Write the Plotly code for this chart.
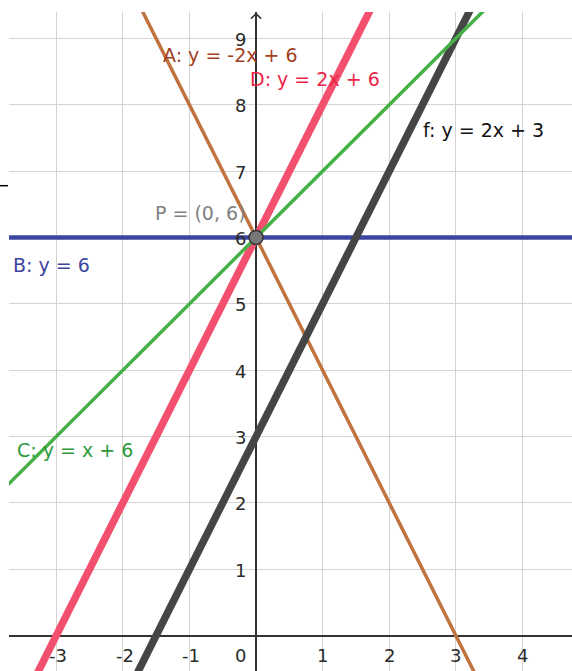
import plotly.graph_objects as go

# lines y = m*x + b
names = ["B", "A", "f", "D", "C"]
label_texts = ["B: y = 6", "A: y = -2x + 6", "f: y = 2x + 3", "D: y = 2x + 6", "C: y = x + 6"]
slopes = [0, -2, 2, 2, 1]
intercepts = [6, 6, 3, 6, 6]
line_colors = ["#3c46a0", "#c0733f", "#454545", "#f2506e", "#45b045"]
label_colors = ["#3c46a0", "#a3401f", "#111111", "#ee2548", "#2e9a3c"]
line_widths = [4.5, 3.5, 7.5, 7.5, 3.5]
label_x = [-3.68, -1.43, 2.48, -0.12, -3.62]
label_y = [5.59, 8.75, 7.62, 8.39, 2.80]

point_x = [0]
point_y = [6]
point_label = "P = (0, 6)"
point_label_pos = [-1.55, 6.37]

x_ticks = [-3, -2, -1, 1, 2, 3, 4]
y_ticks = [1, 2, 3, 4, 5, 6, 7, 8, 9]

x_range = [-3.71, 4.745]
y_range = [-0.535, 9.40]

FONT = "DejaVu Sans"

fig = go.Figure()

for m, b, c, w in zip(slopes, intercepts, line_colors, line_widths):
    xs = [x_range[0] - 1, x_range[1] + 1]
    ys = [m * x + b for x in xs]
    fig.add_trace(go.Scatter(x=xs, y=ys, mode="lines",
                             line=dict(color=c, width=w), hoverinfo="skip"))

fig.add_trace(go.Scatter(x=point_x, y=point_y, mode="markers",
                         marker=dict(size=14, color="#777777",
                                     line=dict(color="#333333", width=1.5))))

# line labels
for t, c, lx, ly in zip(label_texts, label_colors, label_x, label_y):
    fig.add_annotation(x=lx, y=ly, text=t, showarrow=False, xanchor="left",
                       yanchor="middle", font=dict(size=19, color=c, family=FONT))
fig.add_annotation(x=point_label_pos[0], y=point_label_pos[1], text=point_label,
                   showarrow=False, xanchor="left", yanchor="middle",
                   font=dict(size=19, color="#808080", family=FONT))

# tick labels next to the axes
tick_font = dict(size=18, color="#2a2a2a", family=FONT)
for v in x_ticks:
    fig.add_annotation(x=v, y=0, text=str(v), showarrow=False, xanchor="center",
                       yanchor="top", yshift=-7, xshift=2 if v < 0 else 0, font=tick_font)
for v in y_ticks:
    fig.add_annotation(x=0, y=v, text=str(v), showarrow=False, xanchor="right",
                       yanchor="middle", xshift=-8, yshift=-1, font=tick_font)
fig.add_annotation(x=0, y=0, text="0", showarrow=False, xanchor="right",
                   yanchor="top", xshift=-8, yshift=-7, font=tick_font)

# y axis arrow head
fig.add_trace(go.Scatter(x=[-0.075, 0, 0.075], y=[9.30, 9.375, 9.30], mode="lines",
                         line=dict(color="#333333", width=1.5), hoverinfo="skip"))

# stray dash at the left edge
fig.add_shape(type="line", xref="paper", yref="paper", x0=-9 / 563, x1=-1 / 563,
              y0=(671 - 185.7) / 659, y1=(671 - 185.7) / 659,
              line=dict(color="black", width=1.5))

fig.update_xaxes(range=x_range, dtick=1, tick0=0, showgrid=True, gridcolor="#d4d4d4",
                 gridwidth=1, zeroline=True, zerolinecolor="#333333", zerolinewidth=1.5,
                 showticklabels=False, showline=False)
fig.update_yaxes(range=y_range, dtick=1, tick0=0, showgrid=True, gridcolor="#d4d4d4",
                 gridwidth=1, zeroline=True, zerolinecolor="#333333", zerolinewidth=1.5,
                 showticklabels=False, showline=False)
fig.update_layout(width=572, height=671, margin=dict(l=9, r=0, t=12, b=0),
                  plot_bgcolor="white", paper_bgcolor="white", showlegend=False)

fig.write_html("out.html", config={"displayModeBar": False},
               post_script="document.body.style.margin='0px';")
